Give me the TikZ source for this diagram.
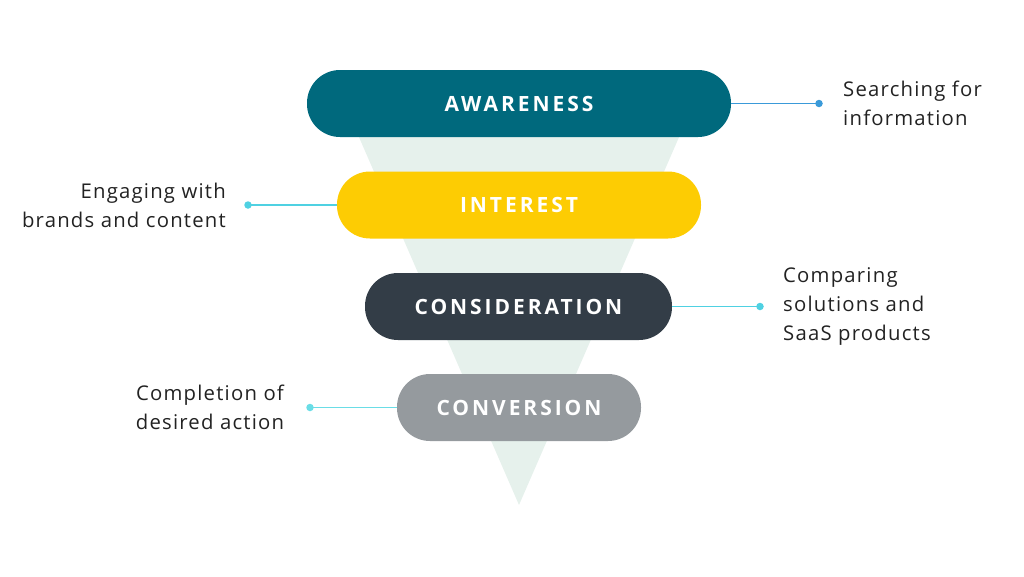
\documentclass[tikz,border=0pt]{standalone}
\usepackage{fontspec}
\setmainfont[LetterSpace=6]{Open Sans}
\newfontfamily\pillfont[LetterSpace=14]{Open Sans Bold}
\definecolor{funnel}{HTML}{E6F1EC}
\definecolor{cawa}{HTML}{00697D}
\definecolor{cint}{HTML}{FDCC03}
\definecolor{ccon}{HTML}{333D47}
\definecolor{cconv}{HTML}{959A9E}
\definecolor{lblue}{HTML}{3A9AD9}
\definecolor{lcyan}{HTML}{4FD1E2}
\definecolor{lcyan2}{HTML}{6ADDE6}
\definecolor{txt}{HTML}{222222}
\begin{document}
\begin{tikzpicture}[x=1pt,y=-1pt,
  pill/.style={rectangle, rounded corners=33pt, inner sep=0pt, minimum height=67pt,
    text=white, font=\pillfont\fontsize{21}{24}\selectfont},
  dot/.style={circle, inner sep=0pt, minimum size=7.5pt},
  lbl/.style={font=\fontsize{20.3}{29}\selectfont, text=txt, inner sep=0pt},
  conn/.style={line width=1.3pt}]
\useasboundingbox (0,0) rectangle (1024,576);
\fill[funnel] (345,105) -- (693,105) -- (519,505) -- cycle;
\node[pill, fill=cawa, minimum width=424pt] (awa) at (519,103.5) {AWARENESS};
\node[pill, fill=cint, minimum width=364pt] (int) at (519,205) {INTEREST};
\node[pill, fill=ccon, minimum width=307pt] (con) at (518.5,306.5) {CONSIDERATION};
\node[pill, fill=cconv, minimum width=244pt] (conv) at (519,407.5) {CONVERSION};
% connectors
\node[dot, fill=lblue] (d1) at (819,103.5) {};
\draw[conn, lblue] (awa.east) -- (d1.center);
\node[dot, fill=lcyan] (d2) at (248,205) {};
\draw[conn, lcyan] (d2.center) -- (int.west);
\node[dot, fill=lcyan] (d3) at (760,306.5) {};
\draw[conn, lcyan] (con.east) -- (d3.center);
\node[dot, fill=lcyan2] (d4) at (310,407.5) {};
\draw[conn, lcyan2] (d4.center) -- (conv.west);
% labels
\node[lbl, anchor=west, align=left] (t1) at (843,103.5) {Searching for\\information};
\node[lbl, anchor=east, align=right] (t2) at (226,205) {Engaging with\\brands and content};
\node[lbl, anchor=west, align=left] (t3) at (783,306) {Comparing\\solutions and\\SaaS products};
\node[lbl, anchor=center, align=center] (t4) at (210,407.5) {Completion of\\desired action};
\end{tikzpicture}
\end{document}
